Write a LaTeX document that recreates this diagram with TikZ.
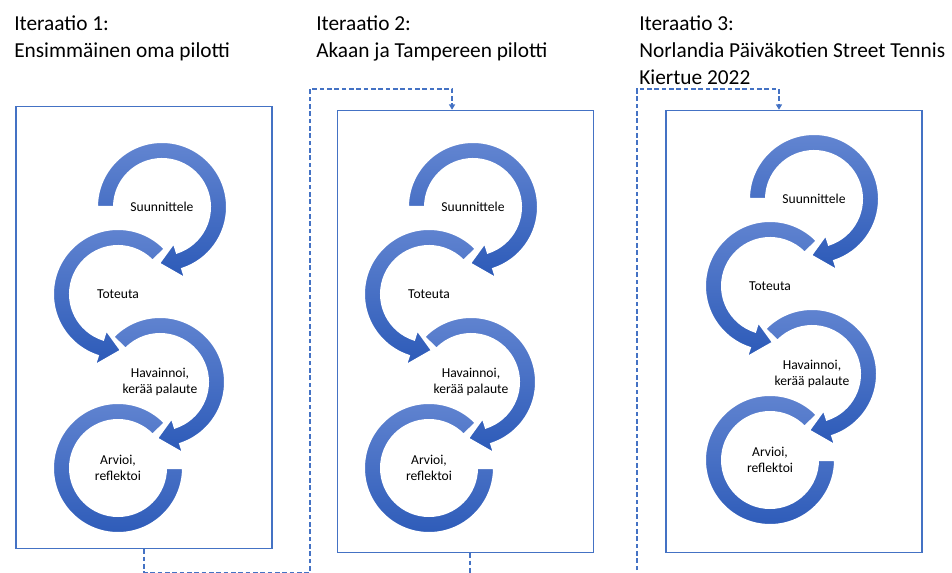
\documentclass[tikz,border=0pt]{standalone}
\usepackage{fontspec}
\setmainfont{Carlito}
\usetikzlibrary{arrows.meta,calc}

\definecolor{officeblue}{RGB}{68,114,196}
\definecolor{arctop}{RGB}{98,133,209}
\definecolor{arcbottom}{RGB}{44,90,184}

\newcommand{\rOut}{65}
\newcommand{\rIn}{48}
\newcommand{\rMid}{56.5}
\newcommand{\hOut}{75}
\newcommand{\hIn}{38}

% ring arc with head: centre node, start, end, tip angle
\newcommand{\ringarrow}[4]{%
  \shadedraw[ring] ($(#1.center)+(#2:\rOut)$) arc[start angle=#2, end angle=#3, radius=\rOut]
    -- ($(#1.center)+(#3:\hOut)$) -- ($(#1.center)+(#4:\rMid)$) -- ($(#1.center)+(#3:\hIn)$)
    -- ($(#1.center)+(#3:\rIn)$) arc[start angle=#3, end angle=#2, radius=\rIn] -- cycle;}
% ring arc without head
\newcommand{\ringplain}[3]{%
  \shadedraw[ring] ($(#1.center)+(#2:\rOut)$) arc[start angle=#2, end angle=#3, radius=\rOut]
    -- ($(#1.center)+(#3:\rIn)$) arc[start angle=#3, end angle=#2, radius=\rIn] -- cycle;}

% one cycle: suffix, x offset, y offset
\newcommand{\pdcacycle}[3]{%
  \node[steptext] (s#1) at (162+#2,365+#3) {Suunnittele};
  \node[steptext] (t#1) at (118+#2,278+#3) {Toteuta};
  \node[steptext] (h#1) at (160+#2,190+#3) {Havainnoi,\\kerää palaute};
  \node[steptext] (a#1) at (118+#2,104+#3) {Arvioi,\\reflektoi};
  \ringplain{a#1}{44}{360}
  \ringarrow{h#1}{136}{-72}{-93}
  \ringarrow{t#1}{44}{252}{273}
  \ringarrow{s#1}{180}{-72}{-93}}

\begin{document}
\begin{tikzpicture}[x=0.75pt, y=0.75pt,
  panel/.style={draw=officeblue, line width=1.1pt, minimum width=192pt, minimum height=331.5pt, inner sep=0pt},
  heading/.style={anchor=north west, align=left, inner sep=0pt, font=\fontsize{16}{20.25}\selectfont},
  steptext/.style={align=center, inner sep=0pt, font=\fontsize{10.2}{11.5}\selectfont},
  ring/.style={top color=arctop, bottom color=arcbottom, draw=white, line width=1.5pt},
  flow/.style={officeblue, line width=0.9pt, dash pattern=on 3.5pt off 2pt, -{Triangle[length=4pt,width=4.5pt]}}]
\useasboundingbox (0,0) rectangle (952,572);

% iteration headings
\node[heading] (it1) at (14,557) {Iteraatio 1:\\Ensimmäinen oma pilotti};
\node[heading] (it2) at (316,557) {Iteraatio 2:\\Akaan ja Tampereen pilotti};
\node[heading] (it3) at (639,557) {Iteraatio 3:\\Norlandia Päiväkotien Street Tennis\\Kiertue 2022};

% frames
\node[panel] (box1) at (144,244.5) {};
\node[panel] (box2) at (465.5,240.5) {};
\node[panel] (box3) at (794,240.5) {};

% cycles
\pdcacycle{1}{0}{0}
\pdcacycle{2}{311}{0}
\pdcacycle{3}{652}{8}

% links between iterations
\draw[flow] (box1.south) -- ++(0,-23) -| (310,483) -| ([xshift=-10.1pt]box2.north);
\draw[flow] ([xshift=3.4pt]box2.south) -- ++(0,-24) -| (637,483) -| ([xshift=-11.25pt]box3.north);
\end{tikzpicture}
\end{document}
